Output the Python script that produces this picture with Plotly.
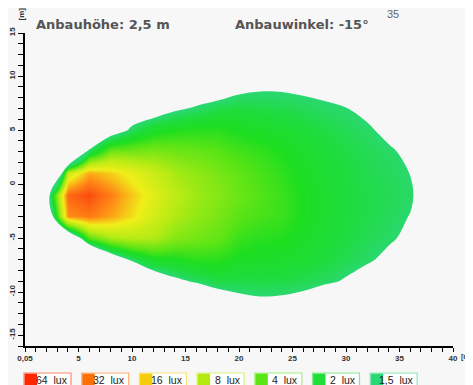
import numpy as np
import plotly.graph_objects as go

# illuminance grid (lux)
x_m = [0, 2, 4, 6, 8, 10, 12, 14, 16, 18, 20, 22, 24, 26, 28, 30, 32, 34, 36, 38, 40]
y_m = [15, 13, 11, 9, 7, 5, 3, 1, -1, -3, -5, -7, -9, -11, -13, -15]
lux = [
    [0.5] * 21,
    [0.5] * 21,
    [0.7] * 21,
    [0.5, 0.5, 0.5, 0.6, 0.8, 0.85, 0.9, 0.95, 0.95, 1.0, 1.29, 1.41, 1.41, 1.35, 1.33, 1.1, 1.0, 0.9, 0.8, 0.6, 0.5],
    [0.5, 0.5, 0.5, 0.6, 0.8, 0.9, 1.0, 1.37, 1.6, 1.9, 2.0, 1.9, 1.85, 1.75, 1.6, 1.52, 1.33, 1.1, 0.9, 0.7, 0.5],
    [0.3, 0.3, 0.3, 0.53, 0.95, 1.7, 2.5, 2.8, 3.0, 3.0, 2.7, 2.5, 2.3, 2.1, 1.9, 1.75, 1.6, 1.33, 1.1, 0.8, 0.5],
    [0.1, 0.05, 0.045, 1.8, 5, 5, 5.2, 4.8, 4.4, 4, 3.5, 3.2, 2.8, 2.4, 2.1, 1.9, 1.75, 1.6, 1.35, 1.0, 0.5],
    [0.1, 0.01, 10, 26, 20, 14, 10, 7, 6, 5, 4.2, 3.6, 3.1, 2.6, 2.2, 2.0, 1.8, 1.7, 1.49, 1.0, 0.5],
    [0.1, 0.8, 45, 58, 36, 21, 13, 8.5, 6.5, 5.5, 4.5, 3.8, 3.3, 2.7, 2.3, 2.0, 1.85, 1.75, 1.6, 1.04, 0.5],
    [0.1, 0.37, 32, 38, 27, 18, 11, 7.5, 6, 5, 4, 3.6, 3.3, 2.7, 2.3, 2.0, 1.85, 1.7, 1.48, 1.0, 0.5],
    [0.1, 0.2, 0.37, 4, 7, 8, 7.5, 5.5, 4.8, 4.3, 3.3, 3.0, 2.9, 2.5, 2.2, 1.95, 1.75, 1.6, 1.35, 1.0, 0.5],
    [0.1, 0.1, 0.2, 0.15, 0.77, 1.6, 2.5, 2.6, 3.0, 3.0, 2.6, 2.5, 2.4, 2.2, 2.0, 1.8, 1.6, 1.33, 1.1, 0.8, 0.5],
    [0.5, 0.5, 0.5, 0.5, 0.6, 0.84, 0.9, 1.33, 1.6, 1.9, 1.9, 1.9, 1.9, 1.8, 1.65, 1.43, 1.16, 1.0, 0.9, 0.7, 0.5],
    [0.5, 0.5, 0.5, 0.5, 0.5, 0.6, 0.7, 0.9, 0.68, 0.97, 1.24, 1.36, 1.32, 1.2, 0.88, 0.8, 0.7, 0.6, 0.5, 0.5, 0.5],
    [0.5] * 21,
    [0.5] * 21,
]

# colour of the map at given lux levels
map_lux = [1.5, 2, 2.8, 4, 8, 16, 32, 64]
map_col = ['rgb(42,216,112)', 'rgb(30,220,60)', 'rgb(30,222,32)', 'rgb(90,228,22)',
           'rgb(185,235,20)', 'rgb(240,238,25)', 'rgb(255,140,22)', 'rgb(250,65,15)']

# legend
leg_text = ['64', '32', '16', '8', '4', '2', '1,5']
leg_col = [(255, 40, 0), (255, 112, 0), (245, 205, 10), (180, 232, 15),
           (90, 230, 20), (30, 222, 55), (40, 216, 120)]

x_ticks = [0, 5, 10, 15, 20, 25, 30, 35, 40]
x_text = ['0,05', '5', '10', '15', '20', '25', '30', '35', '40']
y_ticks = [-14, -10, -5, 0, 5, 10, 14]
y_text = ['-15', '-10', '-5', '0', '5', '10', '15']

bg = '#f7f7f7'
thr = np.log2(1.5)
zlog = np.log2(np.array(lux))[::-1]
ys = y_m[::-1]

lo, hi = np.log2(map_lux[0]), np.log2(map_lux[-1])
cscale = [[(np.log2(v) - lo) / (hi - lo), c] for v, c in zip(map_lux, map_col)]

fig = go.Figure()
fig.add_trace(go.Heatmap(x=x_m, y=ys, z=zlog, zsmooth='best', colorscale=cscale,
                         zmin=lo, zmax=hi, showscale=False, hoverinfo='skip'))
fig.add_trace(go.Contour(x=x_m, y=ys, z=zlog, showscale=False, hoverinfo='skip',
                         contours=dict(type='constraint', operation='>', value=thr),
                         fillcolor=bg, line=dict(width=0, color=bg, smoothing=1)))

# plot area in page pixels: left 25, right 453, top 33, bottom 346
def px(x):
    return (x - 25) / 428.0

def py(y):
    return (346 - y) / 313.0

def note(x, y, text, size, color, family='Liberation Sans', **kw):
    fig.add_annotation(x=px(x), y=py(y), text=text, showarrow=False,
                       xref='paper', yref='paper', yanchor='middle',
                       font=dict(family=family, size=size, color=color), **kw)

grey = '#555555'
note(34, 25, '<b>Anbauhöhe: 2,5 m</b>', 13, grey, 'DejaVu Sans', xanchor='left')
note(233, 25, '<b>Anbauwinkel: -15°</b>', 13, grey, 'DejaVu Sans', xanchor='left')
note(401, 14, '35', 11, '#666666')
note(459, 357, '<b>[m]</b>', 7, '#333333', xanchor='left')
note(15, 14, '<b>[m]</b>', 8, '#333333', textangle=-90)

for i, (t, c) in enumerate(zip(leg_text, leg_col)):
    x0 = 24 + i * 57.7
    light = 'rgb(%d,%d,%d)' % tuple(int(v + (255 - v) * 0.45) for v in c)
    fig.add_shape(type='rect', xref='paper', yref='paper', x0=px(x0), x1=px(x0 + 47),
                  y0=py(373), y1=py(392), fillcolor='white', line=dict(color=light, width=1.2))
    fig.add_shape(type='rect', xref='paper', yref='paper', x0=px(x0 + 0.6), x1=px(x0 + 13),
                  y0=py(373.6), y1=py(392), fillcolor='rgb(%d,%d,%d)' % c, line=dict(width=0))
    note(x0 + 45.5, 380, t + '  lux', 10.5, '#222222', xanchor='right')

tickfont = dict(family='Liberation Sans', size=8, color='#333333', weight='bold')
# page body has an 8 px margin, so the figure is 8 px smaller than the window
fig.update_layout(width=465, height=377, autosize=False,
                  margin=dict(l=17, r=20, t=25, b=39),
                  paper_bgcolor=bg, plot_bgcolor=bg, showlegend=False)
fig.update_xaxes(range=[0, 40], tickvals=x_ticks, ticktext=x_text, ticks='outside',
                 ticklen=4, tickcolor='black', showline=True, linecolor='black',
                 linewidth=1.5, showgrid=False, zeroline=False, tickfont=tickfont,
                 automargin=False,
                 minor=dict(dtick=1, tick0=0, ticks='outside', ticklen=4, tickcolor='black'))
fig.update_yaxes(range=[-15, 14], tickvals=y_ticks, ticktext=y_text, ticks='outside',
                 ticklen=5, tickcolor='black', showline=True, linecolor='black',
                 linewidth=1.5, showgrid=False, zeroline=False, tickfont=tickfont,
                 tickangle=-90, automargin=False,
                 minor=dict(dtick=1, tick0=0, ticks='outside', ticklen=5, tickcolor='black'))

fig.write_html("out.html")
